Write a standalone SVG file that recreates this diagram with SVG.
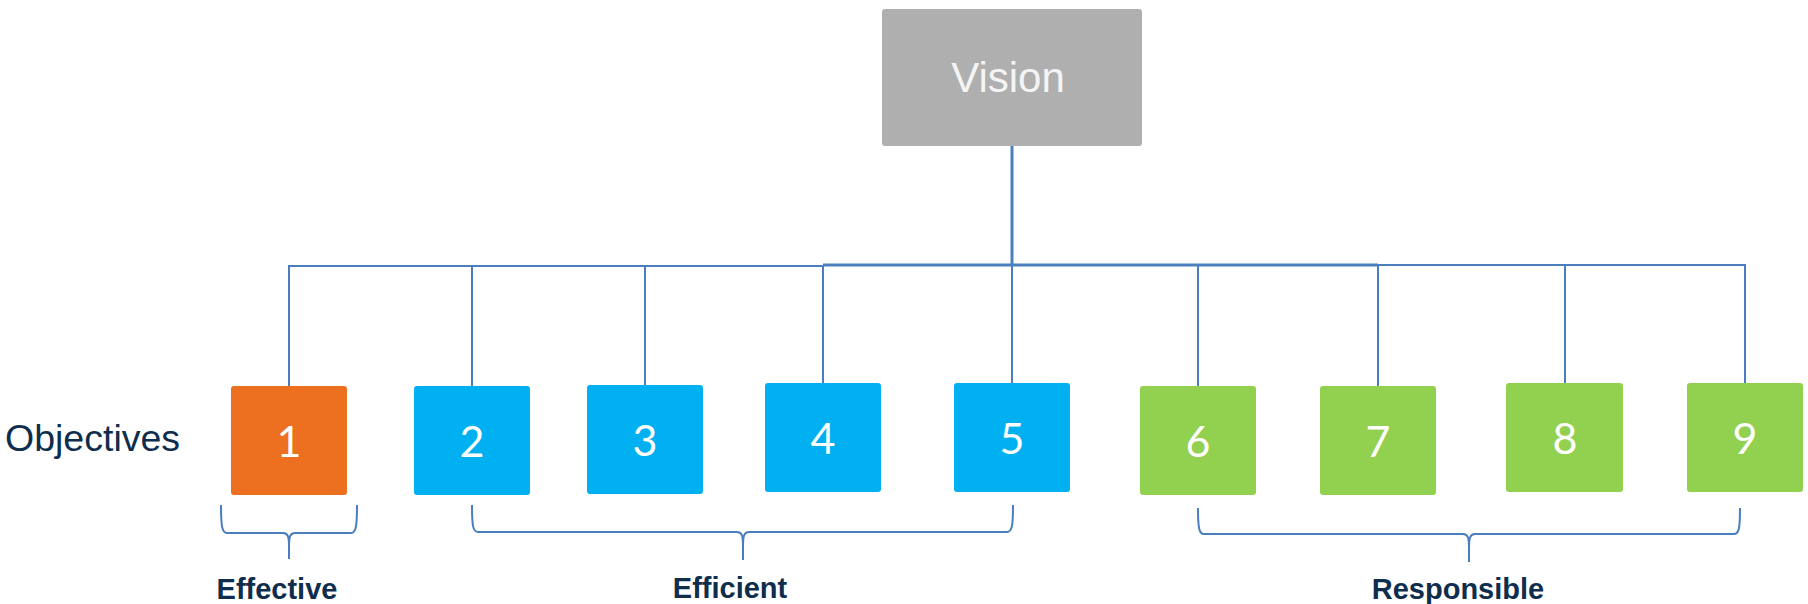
<svg xmlns="http://www.w3.org/2000/svg" width="1808" height="604" viewBox="0 0 1808 604">
<style>
.c{stroke:#4A7EBF;stroke-width:2;fill:none}
.ct{stroke:#4A7EBF;stroke-width:3;fill:none}
.num{font-family:Lato,"Open Sans","Liberation Sans",sans-serif;font-size:43px;fill:#FFFFFF;text-anchor:middle}
.o{fill:#EC7020}
.b{fill:#00B0F0}
.g{fill:#92D050}
.lbl{font-family:"Liberation Sans",Arial,sans-serif;font-weight:bold;font-size:29px;fill:#0F2D4D;text-anchor:middle}
</style>
<rect width="1808" height="604" fill="#FFFFFF"/>
<g id="connectors">
<line class="ct" x1="1012" y1="146" x2="1012" y2="265"/>
<line class="c" x1="288" y1="266" x2="823" y2="266"/>
<line class="ct" x1="823" y1="265" x2="1378" y2="265"/>
<line class="c" x1="1378" y1="265" x2="1746" y2="265"/>
<line class="c" x1="289" y1="266" x2="289" y2="386"/>
<line class="c" x1="472" y1="266" x2="472" y2="386"/>
<line class="c" x1="645" y1="266" x2="645" y2="385"/>
<line class="c" x1="823" y1="265" x2="823" y2="383"/>
<line class="c" x1="1012" y1="265" x2="1012" y2="383"/>
<line class="c" x1="1198" y1="265" x2="1198" y2="386"/>
<line class="c" x1="1378" y1="265" x2="1378" y2="386"/>
<line class="c" x1="1565" y1="265" x2="1565" y2="383"/>
<line class="c" x1="1745" y1="265" x2="1745" y2="383"/>
</g>
<g id="vision">
<rect x="882" y="9" width="260" height="137" rx="3" fill="#AFAFAF"/>
<text x="1008" y="92" font-family="'Liberation Sans',Arial,sans-serif" font-size="42" fill="#F4F4F4" text-anchor="middle">Vision</text>
</g>
<g id="objectives-label">
<text x="5" y="451" font-family="'Liberation Sans',Arial,sans-serif" font-size="37.5" fill="#0F2D4D">Objectives</text>
</g>
<g id="obj1"><rect class="o" x="231" y="386" width="116" height="109" rx="3"/><text class="num" x="289" y="457">1</text></g>
<g id="obj2"><rect class="b" x="414" y="386" width="116" height="109" rx="3"/><text class="num" x="472" y="457">2</text></g>
<g id="obj3"><rect class="b" x="587" y="385" width="116" height="109" rx="3"/><text class="num" x="645" y="456">3</text></g>
<g id="obj4"><rect class="b" x="765" y="383" width="116" height="109" rx="3"/><text class="num" x="823" y="454">4</text></g>
<g id="obj5"><rect class="b" x="954" y="383" width="116" height="109" rx="3"/><text class="num" x="1012" y="454">5</text></g>
<g id="obj6"><rect class="g" x="1140" y="386" width="116" height="109" rx="3"/><text class="num" x="1198" y="457">6</text></g>
<g id="obj7"><rect class="g" x="1320" y="386" width="116" height="109" rx="3"/><text class="num" x="1378" y="457">7</text></g>
<g id="obj8"><rect class="g" x="1506" y="383" width="117" height="109" rx="3"/><text class="num" x="1565" y="454">8</text></g>
<g id="obj9"><rect class="g" x="1687" y="383" width="116" height="109" rx="3"/><text class="num" x="1745" y="454">9</text></g>
<g id="brace-effective">
<path class="c" d="M221,505 C221,526 222,533 227,533 L283,533 C288,533 289,537 289,546 L289,559 M289,546 C289,537 290,533 295,533 L351,533 C356,533 357,526 357,505"/>
<text class="lbl" x="277" y="599">Effective</text>
</g>
<g id="brace-efficient">
<path class="c" d="M472,505 C472,526 473,532 478,532 L737,532 C742,532 743,536 743,546 L743,560 M743,546 C743,536 744,532 749,532 L1007,532 C1012,532 1013,526 1013,505"/>
<text class="lbl" x="730" y="598">Efficient</text>
</g>
<g id="brace-responsible">
<path class="c" d="M1198,508 C1198,528 1199,534 1204,534 L1463,534 C1468,534 1469,538 1469,548 L1469,562 M1469,548 C1469,538 1470,534 1475,534 L1734,534 C1739,534 1740,528 1740,508"/>
<text class="lbl" x="1458" y="599">Responsible</text>
</g>
</svg>
